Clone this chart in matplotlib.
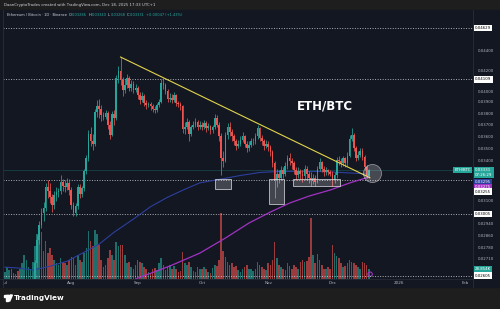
import matplotlib
matplotlib.use("Agg")
import matplotlib.pyplot as plt
from matplotlib.patches import Rectangle, Polygon, Circle
from matplotlib.ticker import NullLocator, NullFormatter
from matplotlib.lines import Line2D

# ETH/BTC daily candles, 1 Jul 2025 -> 18 Dec 2025 (x = days since 1 Jul)
first_open = 0.02260

close_jul = [0.02280, 0.02310, 0.02370, 0.02300, 0.02310, 0.02340, 0.02330, 0.02360, 0.02420, 0.02510,
             0.02520, 0.02530, 0.02540, 0.02560, 0.02680, 0.02830, 0.02930, 0.03010, 0.03050, 0.03200,
             0.03170, 0.03130, 0.03070, 0.03140, 0.03160, 0.03170, 0.03240, 0.03210, 0.03200, 0.03230, 0.03180]
close_aug = [0.03070, 0.03010, 0.03060, 0.03200, 0.03150, 0.03190, 0.03320, 0.03420, 0.03620, 0.03560,
             0.03540, 0.03810, 0.03860, 0.03840, 0.03780, 0.03770, 0.03800, 0.03700, 0.03610, 0.03790,
             0.03760, 0.04120, 0.04190, 0.04100, 0.04010, 0.04060, 0.04120, 0.04030, 0.04070, 0.04010, 0.04030]
close_sep = [0.03960, 0.03920, 0.03950, 0.03890, 0.03870, 0.03880, 0.03860, 0.03840, 0.03830, 0.03870,
             0.03900, 0.04080, 0.04060, 0.04000, 0.03930, 0.03940, 0.03920, 0.03960, 0.03890, 0.03880,
             0.03860, 0.03660, 0.03680, 0.03720, 0.03620, 0.03680, 0.03700, 0.03720, 0.03680, 0.03700]
close_oct = [0.03680, 0.03710, 0.03670, 0.03690, 0.03650, 0.03680, 0.03760, 0.03700, 0.03600, 0.03420,
             0.03400, 0.03610, 0.03680, 0.03640, 0.03600, 0.03560, 0.03520, 0.03540, 0.03570, 0.03600,
             0.03540, 0.03500, 0.03530, 0.03560, 0.03565, 0.03600, 0.03670, 0.03590, 0.03560, 0.03520, 0.03540]
close_nov = [0.03510, 0.03470, 0.03380, 0.03250, 0.03300, 0.03270, 0.03330, 0.03300, 0.03360, 0.03420,
             0.03400, 0.03380, 0.03330, 0.03290, 0.03320, 0.03300, 0.03280, 0.03340, 0.03300, 0.03270,
             0.03250, 0.03270, 0.03240, 0.03340, 0.03390, 0.03340, 0.03310, 0.03330, 0.03310, 0.03300]
close_dec = [0.03250, 0.03290, 0.03410, 0.03400, 0.03380, 0.03420, 0.03380, 0.03440, 0.03580, 0.03610,
             0.03500, 0.03420, 0.03450, 0.03480, 0.03430, 0.03350, 0.03284, 0.03331]

high_jul = [0.02300, 0.02330, 0.02390, 0.02380, 0.02330, 0.02360, 0.02360, 0.02380, 0.02440, 0.02540,
            0.02560, 0.02550, 0.02560, 0.02580, 0.02700, 0.02860, 0.02960, 0.03050, 0.03090, 0.03230,
            0.03250, 0.03230, 0.03150, 0.03170, 0.03200, 0.03190, 0.03290, 0.03260, 0.03250, 0.03270, 0.03260]
high_aug = [0.03200, 0.03090, 0.03080, 0.03220, 0.03220, 0.03210, 0.03340, 0.03450, 0.03650, 0.03680,
            0.03620, 0.03840, 0.03920, 0.03930, 0.03870, 0.03810, 0.03830, 0.03820, 0.03730, 0.03820,
            0.03830, 0.04150, 0.04240, 0.04329, 0.04130, 0.04110, 0.04160, 0.04140, 0.04100, 0.04090, 0.04070]
high_sep = [0.04050, 0.03990, 0.03990, 0.03970, 0.03920, 0.03900, 0.03900, 0.03880, 0.03860, 0.03890,
            0.03930, 0.04110, 0.04120, 0.04080, 0.04020, 0.03980, 0.03970, 0.03990, 0.03970, 0.03910,
            0.03900, 0.03870, 0.03720, 0.03760, 0.03740, 0.03700, 0.03730, 0.03760, 0.03740, 0.03730]
high_oct = [0.03720, 0.03740, 0.03730, 0.03710, 0.03700, 0.03700, 0.03790, 0.03780, 0.03720, 0.03630,
            0.03480, 0.03640, 0.03710, 0.03720, 0.03660, 0.03620, 0.03580, 0.03570, 0.03600, 0.03640,
            0.03610, 0.03560, 0.03560, 0.03590, 0.03590, 0.03630, 0.03700, 0.03680, 0.03610, 0.03580, 0.03570]
high_nov = [0.03560, 0.03530, 0.03490, 0.03400, 0.03340, 0.03330, 0.03360, 0.03350, 0.03390, 0.03450,
            0.03460, 0.03420, 0.03400, 0.03350, 0.03350, 0.03340, 0.03330, 0.03370, 0.03360, 0.03320,
            0.03310, 0.03300, 0.03290, 0.03360, 0.03420, 0.03400, 0.03360, 0.03350, 0.03340, 0.03330]
high_dec = [0.03320, 0.03310, 0.03430, 0.03440, 0.03420, 0.03440, 0.03430, 0.03470, 0.03610, 0.03670,
            0.03630, 0.03520, 0.03480, 0.03500, 0.03500, 0.03450, 0.03370, 0.03340]

low_jul = [0.02240, 0.02270, 0.02300, 0.02280, 0.02290, 0.02300, 0.02310, 0.02320, 0.02350, 0.02410,
           0.02480, 0.02500, 0.02510, 0.02490, 0.02540, 0.02660, 0.02800, 0.02910, 0.02960, 0.03030,
           0.03120, 0.03080, 0.03020, 0.03040, 0.03100, 0.03130, 0.03150, 0.03170, 0.03160, 0.03180, 0.03140]
low_aug = [0.03040, 0.02990, 0.02990, 0.03040, 0.03120, 0.03130, 0.03170, 0.03300, 0.03400, 0.03520,
           0.03490, 0.03520, 0.03770, 0.03760, 0.03730, 0.03740, 0.03750, 0.03660, 0.03580, 0.03600,
           0.03700, 0.03740, 0.04080, 0.04060, 0.03950, 0.03980, 0.04030, 0.04000, 0.04000, 0.03980, 0.03990]
low_sep = [0.03930, 0.03880, 0.03900, 0.03860, 0.03840, 0.03850, 0.03830, 0.03810, 0.03800, 0.03810,
           0.03850, 0.03890, 0.04020, 0.03970, 0.03900, 0.03900, 0.03890, 0.03900, 0.03860, 0.03850,
           0.03830, 0.03630, 0.03620, 0.03660, 0.03560, 0.03600, 0.03660, 0.03680, 0.03650, 0.03660]
low_oct = [0.03650, 0.03660, 0.03640, 0.03650, 0.03620, 0.03630, 0.03660, 0.03680, 0.03560, 0.03290,
           0.03350, 0.03390, 0.03580, 0.03600, 0.03560, 0.03530, 0.03490, 0.03500, 0.03520, 0.03550,
           0.03510, 0.03470, 0.03480, 0.03510, 0.03530, 0.03540, 0.03580, 0.03560, 0.03530, 0.03490, 0.03500]
low_nov = [0.03480, 0.03440, 0.03350, 0.03120, 0.03200, 0.03230, 0.03250, 0.03270, 0.03280, 0.03340,
           0.03370, 0.03340, 0.03300, 0.03250, 0.03270, 0.03260, 0.03240, 0.03260, 0.03260, 0.03230,
           0.03210, 0.03220, 0.03210, 0.03230, 0.03320, 0.03310, 0.03280, 0.03290, 0.03290, 0.03280]
low_dec = [0.03210, 0.03230, 0.03270, 0.03370, 0.03350, 0.03360, 0.03350, 0.03360, 0.03430, 0.03560,
           0.03480, 0.03400, 0.03410, 0.03430, 0.03410, 0.03330, 0.03270, 0.03268]

# volume in thousands
vol_jul = [20, 35, 25, 30, 18, 15, 22, 28, 45, 70, 55, 35, 30, 48, 95, 130, 120, 135, 80, 110,
           75, 90, 70, 55, 45, 40, 60, 50, 45, 40, 55]
vol_aug = [65, 60, 40, 70, 55, 50, 75, 90, 140, 110, 95, 142, 130, 100, 55, 35, 40, 60, 85, 70,
           55, 107, 95, 100, 98, 70, 45, 50, 35, 30, 40]
vol_sep = [55, 50, 45, 35, 30, 20, 18, 30, 32, 25, 45, 60, 40, 25, 35, 40, 30, 38, 28, 20,
           22, 78, 45, 40, 50, 35, 22, 20, 35, 30]
vol_oct = [28, 35, 30, 20, 18, 32, 40, 38, 55, 190, 80, 65, 50, 40, 45, 35, 38, 25, 20, 30,
           35, 40, 30, 28, 22, 30, 50, 40, 35, 30, 25]
vol_nov = [45, 40, 55, 107, 60, 40, 35, 30, 25, 45, 38, 30, 40, 35, 30, 50, 55, 48, 52, 65,
           177, 70, 45, 72, 55, 40, 30, 28, 35, 30]
vol_dec = [100, 75, 68, 60, 45, 35, 38, 45, 55, 48, 45, 40, 35, 30, 50, 45, 42, 28.854]

closes = close_jul + close_aug + close_sep + close_oct + close_nov + close_dec
highs = high_jul + high_aug + high_sep + high_oct + high_nov + high_dec
lows = low_jul + low_aug + low_sep + low_oct + low_nov + low_dec
volumes = vol_jul + vol_aug + vol_sep + vol_oct + vol_nov + vol_dec
opens = [first_open] + closes[:-1]
days = list(range(len(closes)))

# moving averages
blue_days = [0, 7, 13, 21, 29, 37, 44, 51, 60, 68, 76, 84, 91, 100, 110, 119, 128, 138, 147, 157, 166, 170]
blue_vals = [0.02656, 0.02650, 0.02638, 0.02662, 0.02693, 0.02750, 0.02802, 0.02881, 0.02970, 0.03057,
             0.03125, 0.03183, 0.03231, 0.03257, 0.03287, 0.03310, 0.03318, 0.03318, 0.03318, 0.03310,
             0.03302, 0.03295]
purple_days = [58, 62, 77, 91, 103, 114, 124, 133, 142, 152, 161, 170]
purple_vals = [0.02560, 0.02589, 0.02663, 0.02744, 0.02842, 0.02943, 0.03019, 0.03083, 0.03133,
               0.03178, 0.03230, 0.03275]

# drawings
trend_days = [54, 170.5]
trend_vals = [0.04329, 0.03270]
boxes = [(98.1, 105.6, 0.03187, 0.03263), (123.4, 130.4, 0.03075, 0.03263), (134.6, 156.5, 0.03205, 0.03263)]
levels = [0.04629, 0.04109, 0.03255, 0.03005, 0.02605]
price_ticks = [0.04400, 0.04200, 0.04000, 0.03900, 0.03800, 0.03700, 0.03600, 0.03500, 0.03400,
               0.03100, 0.02940, 0.02860, 0.02780, 0.02710]
month_days = [0, 31, 62, 92, 123, 153, 184, 215]
month_labels = ["Jul", "Aug", "Sep", "Oct", "Nov", "Dec", "2026", "Feb"]

UP = "#26a69a"
DOWN = "#ef5350"
PANE = "#131722"
OUTER = "#1e1e1e"
TXT = "#b2b5be"
SEP = "#2a2e39"

W, H = 500, 309
fig = plt.figure(figsize=(W / 100, H / 100), dpi=100, facecolor=OUTER)


def fx(px):
    return px / W


def fy(py):
    return 1 - py / H


# chart pane
fig.patches.append(Rectangle((0, fy(287)), 1, fy(10) - fy(287), transform=fig.transFigure,
                             color=PANE, zorder=-5))
fig.lines.append(Line2D([fx(473), fx(473)], [fy(287), fy(10)], transform=fig.transFigure, color=SEP, lw=0.6))
fig.lines.append(Line2D([fx(3), fx(3)], [fy(287), fy(10)], transform=fig.transFigure, color=SEP, lw=0.6))
fig.lines.append(Line2D([0, fx(473)], [fy(279), fy(279)], transform=fig.transFigure, color=SEP, lw=0.5))

pos = [fx(3), fy(279), fx(473) - fx(3), fy(10) - fy(279)]
vol = fig.add_axes(pos)
vol.set_facecolor(PANE)
ax = fig.add_axes(pos, sharex=vol)
ax.patch.set_alpha(0)

# volume
vcolors = [UP if c >= o else DOWN for o, c in zip(opens, closes)]
vol.bar(days, volumes, width=0.75, color=vcolors, alpha=0.62, linewidth=0)
vol.set_ylim(0, 780)
vol.tick_params(left=False, bottom=False, labelleft=False, labelbottom=False)
for s in vol.spines.values():
    s.set_visible(False)

# price
ax.set_yscale("log")
ax.set_xlim(-0.93, 218.7)
ax.set_ylim(0.02584, 0.04829)

for p in levels:
    ax.axhline(p, color="#c8cad0", lw=0.7, ls=(0, (1, 1.6)), alpha=0.85, zorder=1)
ax.axhline(closes[-1], color=UP, lw=0.4, alpha=0.45, zorder=1)

ax.plot(blue_days, blue_vals, color="#2c3f9e", lw=0.8, zorder=2)
ax.plot(purple_days, purple_vals, color="#a232c4", lw=0.9, zorder=2)

body_lo = [min(o, c) for o, c in zip(opens, closes)]
body_h = [abs(c - o) for o, c in zip(opens, closes)]
ax.vlines(days, lows, highs, colors=vcolors, lw=0.55, zorder=3)
ax.bar(days, body_h, bottom=body_lo, width=0.78, color=vcolors, linewidth=0, zorder=4)

ax.plot(trend_days, trend_vals, color="#e3d44c", lw=0.8, zorder=5)
for d0, d1, p0, p1 in boxes:
    ax.add_patch(Rectangle((d0, p0), d1 - d0, p1 - p0, facecolor=(1, 1, 1, 0.2),
                           edgecolor=(0.85, 0.85, 0.87, 0.75), lw=0.7, zorder=5))
ax.scatter([171.3], [0.03309], s=170, facecolor=(1, 1, 1, 0.22), edgecolor=(1, 1, 1, 0.45), lw=0.6, zorder=6)
vol.scatter([170.6], [14], s=10, facecolor="none", edgecolor="#a232c4", lw=0.8, zorder=6)

ax.text(0.685, 0.643, "ETH/BTC", transform=ax.transAxes, fontsize=8.5, fontweight="bold",
        color="white", ha="center", va="center", zorder=7)

for s in ax.spines.values():
    s.set_visible(False)

ax.set_xticks(month_days, month_labels)
ax.tick_params(axis="x", length=0, pad=1.2, labelsize=3, labelcolor=TXT)
ax.yaxis.tick_right()
ax.set_yticks(price_ticks)
ax.set_yticklabels([f"{v:.5f}" for v in price_ticks])
ax.yaxis.set_minor_locator(NullLocator())
ax.yaxis.set_minor_formatter(NullFormatter())
ax.tick_params(axis="y", length=0, pad=3.2, labelsize=2.8, labelcolor=TXT)

# right side price tags
ytr = ax.get_yaxis_transform()
lab_kw = dict(fontsize=2.8, va="center", ha="left", annotation_clip=False, zorder=8)
for p in [0.04629, 0.04109, 0.03005, 0.02605]:
    ax.annotate(f"{p:.5f}", xy=(1, p), xycoords=ytr, xytext=(1.5, 0), textcoords="offset points",
                color="black", bbox=dict(boxstyle="square,pad=0.3", fc="white", ec="none"), **lab_kw)
ax.annotate("0.03331\n07:26:29", xy=(1, closes[-1]), xycoords=ytr, xytext=(1.5, -2.0),
            textcoords="offset points", color="white", linespacing=1.1,
            bbox=dict(boxstyle="square,pad=0.3", fc=UP, ec="none"), **lab_kw)
ax.annotate("ETH/BTC", xy=(1, closes[-1]), xycoords=ytr, xytext=(-1.5, 0), textcoords="offset points",
            color="white", fontsize=2.8, va="center", ha="right", annotation_clip=False, zorder=8,
            bbox=dict(boxstyle="square,pad=0.3", fc=UP, ec="none"))
ax.annotate(f"{blue_vals[-1]:.5f}", xy=(1, blue_vals[-1]), xycoords=ytr, xytext=(1.5, -5.8),
            textcoords="offset points", color="white",
            bbox=dict(boxstyle="square,pad=0.3", fc="#2c3f9e", ec="none"), **lab_kw)
ax.annotate(f"{purple_vals[-1]:.5f}", xy=(1, purple_vals[-1]), xycoords=ytr, xytext=(1.5, -7.2),
            textcoords="offset points", color="white",
            bbox=dict(boxstyle="square,pad=0.3", fc="#a232c4", ec="none"), **lab_kw)
ax.annotate(f"{levels[2]:.5f}", xy=(1, levels[2]), xycoords=ytr, xytext=(1.5, -8.6),
            textcoords="offset points", color="black",
            bbox=dict(boxstyle="square,pad=0.3", fc="white", ec="none"), **lab_kw)
vol.annotate(f"{volumes[-1]:.3f}K", xy=(1, volumes[-1]), xycoords=vol.get_yaxis_transform(),
             xytext=(1.5, 0), textcoords="offset points", color="white",
             bbox=dict(boxstyle="square,pad=0.3", fc=UP, ec="none"), **lab_kw)

# header
fig.text(fx(4), fy(5), "DaanCryptoTrades created with TradingView.com, Dec 18, 2025 17:33 UTC+1",
         fontsize=2.8, color="#d1d4dc", va="center")
legend_parts = [("Ethereum / Bitcoin · 1D · Binance", "#d1d4dc", 2.0),
                ("O", "#d1d4dc", 0.3), ("0.03286", UP, 1.5),
                ("H", "#d1d4dc", 0.3), ("0.03340", UP, 1.5),
                ("L", "#d1d4dc", 0.3), ("0.03268", UP, 1.5),
                ("C", "#d1d4dc", 0.3), ("0.03331", UP, 1.5),
                ("+0.00047 (+1.43%)", UP, 0)]
renderer = fig.canvas.get_renderer()
xcur = 7.0
for s, c, gap in legend_parts:
    t = fig.text(fx(xcur), fy(14.5), s, fontsize=2.6, color=c, va="center")
    xcur += t.get_window_extent(renderer).width + gap

# footer logo
fig.patches.append(Rectangle((fx(4), fy(296.5)), fx(3.6), fy(295) - fy(296.5), transform=fig.transFigure,
                             color="white"))
fig.patches.append(Rectangle((fx(5.8), fy(301)), fx(1.8), fy(295) - fy(301), transform=fig.transFigure,
                             color="white"))
fig.patches.append(Circle((fx(9.0), fy(296.0)), fx(0.9), transform=fig.transFigure, color="white"))
fig.patches.append(Polygon([(fx(10.4), fy(295)), (fx(12.4), fy(295)), (fx(9.8), fy(301)), (fx(8.0), fy(301))],
                           closed=True, transform=fig.transFigure, color="white"))
fig.text(fx(14), fy(298), "TradingView", fontsize=5.2, color="white", fontweight="bold", va="center")

fig.savefig("out.png", dpi=100, facecolor=OUTER)
